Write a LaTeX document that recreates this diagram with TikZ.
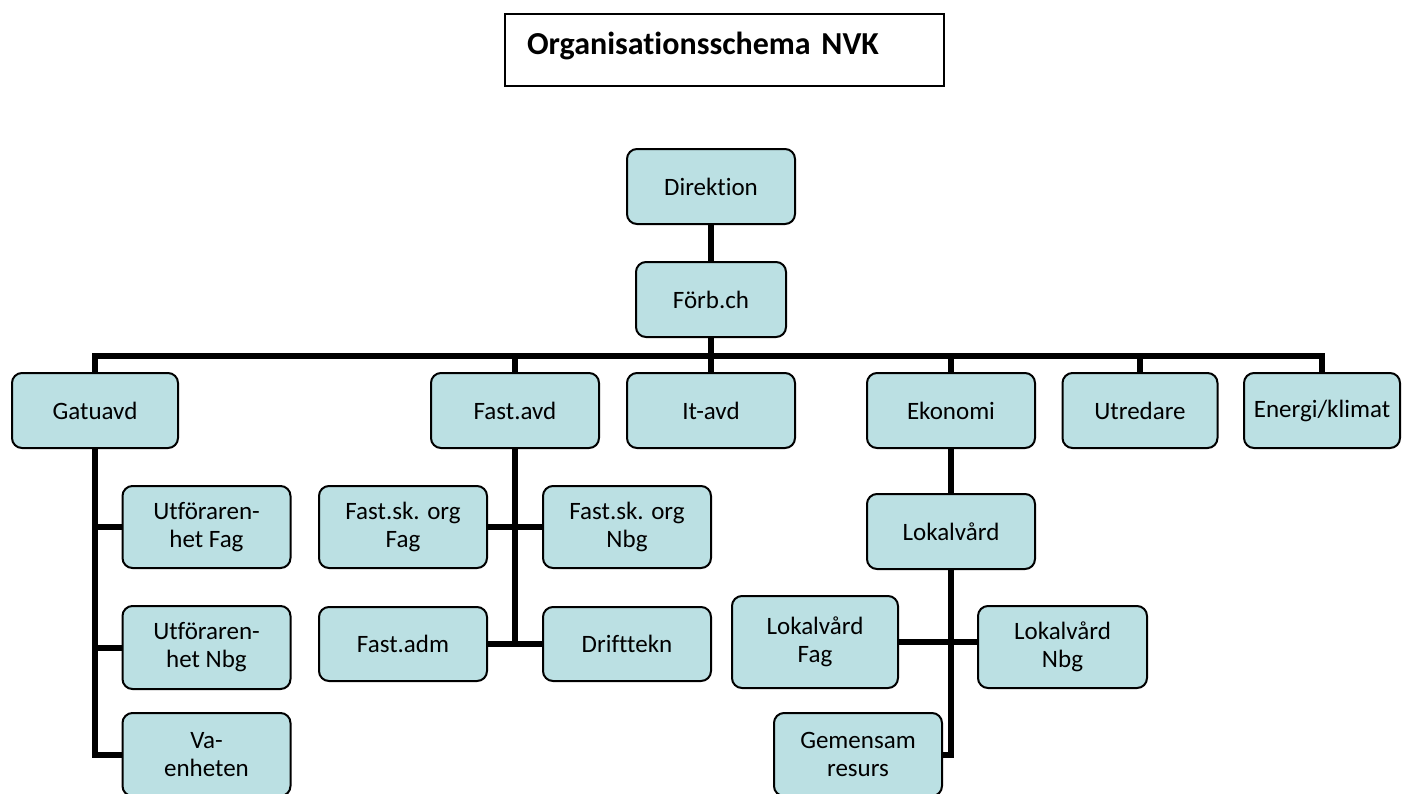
\documentclass[tikz,border=0pt]{standalone}
\usepackage{fontspec}
\setmainfont{Carlito}[Ligatures=NoCommon]
\usetikzlibrary{positioning}

\definecolor{orgfill}{RGB}{187,224,227}

\tikzset{
  orgbox/.style={draw, line width=1pt, rounded corners=5pt, fill=orgfill,
    minimum width=84pt, minimum height=37.5pt, align=center, inner sep=2pt,
    outer sep=0pt, font=\fontsize{12.5}{14}\selectfont},
  orgline/.style={line width=3pt},
  titlebox/.style={draw, line width=0.8pt, minimum width=219.5pt, minimum height=36pt,
    inner xsep=11pt, text width=197.5pt, align=left, text height=8pt, text depth=4pt,
    outer sep=0pt, font=\fontsize{16}{18}\selectfont\bfseries}
}

\begin{document}
\begin{tikzpicture}[x=0.5pt,y=-0.5pt]
  \clip (0,0) rectangle (1402,793);

  % --- Title ---
  \node[titlebox] (title) at (724.5,50) {Organisationsschema NVK};

  % --- Top of the tree ---
  \node[orgbox] (dir) at (711,186.5) {Direktion};
  \node[orgbox, minimum width=75pt] (forb) [below=19pt of dir] {Förb.ch};

  % --- Departments ---
  \node[orgbox, minimum width=83pt] (gatu) at (95,410.5) {Gatuavd};
  \node[orgbox] (fastavd) at (515,410.5) {Fast.avd};
  \node[orgbox] (itavd) [below=18pt of forb] {It-avd};
  \node[orgbox] (ekonomi) at (951,410.5) {Ekonomi};
  \node[orgbox, minimum width=77.5pt] (utredare) at (1140,410.5) {Utredare};
  \node[orgbox, minimum width=78pt] (energi) at (1322,410.5) {Energi/klimat};

  % --- Gatuavd units ---
  \node[orgbox, minimum height=41pt] (utfag) at (206.5,527) {Utföraren-\\het Fag};
  \node[orgbox, minimum height=41.5pt] (utnbg) at (206.5,647.5) {Utföraren-\\het Nbg};
  \node[orgbox, minimum height=41.5pt] (vaenh) at (206.5,754.5) {Va-\\enheten};

  % --- Fast.avd units ---
  \node[orgbox, minimum height=41pt] (fskfag) at (403,527) {Fast.sk. org\\Fag};
  \node[orgbox, minimum height=41pt] (fsknbg) at (627,527) {Fast.sk. org\\Nbg};
  \node[orgbox, minimum height=37pt] (fastadm) at (403,644) {Fast.adm};
  \node[orgbox, minimum height=37pt] (drift) at (627,644) {Drifttekn};

  % --- Ekonomi units ---
  \node[orgbox] (lokal) [below=23pt of ekonomi] {Lokalvård};
  \node[orgbox, minimum width=83pt, minimum height=46pt] (lvfag) at (815,642) {Lokalvård\\Fag};
  \node[orgbox, minimum width=84.5pt, minimum height=41pt] (lvnbg) at (1062.5,647) {Lokalvård\\Nbg};
  \node[orgbox, minimum height=41.5pt] (gemensam) at (858,754.5) {Gemensam\\resurs};

  % --- Connectors ---
  \coordinate (bus) at (711,356);
  \draw[orgline] (dir) -- (forb);
  \draw[orgline] (forb) -- (itavd);
  \draw[orgline] (gatu.north) |- (bus) -| (energi.north);
  \foreach \n in {fastavd,ekonomi,utredare}
    \draw[orgline] (\n.north) -- (\n.north |- bus);

  \draw[orgline] (gatu.south) |- (vaenh.west);
  \foreach \n in {utfag,utnbg}
    \draw[orgline] (\n.west) -- (\n.west -| gatu.south);

  \draw[orgline] (fastavd.south) -- (fastavd.south |- fastadm.east);
  \draw[orgline] (fskfag) -- (fsknbg);
  \draw[orgline] (fastadm) -- (drift);

  \draw[orgline] (ekonomi) -- (lokal);
  \draw[orgline] (lokal.south) |- (gemensam.east);
  \draw[orgline] (lvfag.east) -- (lvfag.east -| lvnbg.west);
\end{tikzpicture}
\end{document}
